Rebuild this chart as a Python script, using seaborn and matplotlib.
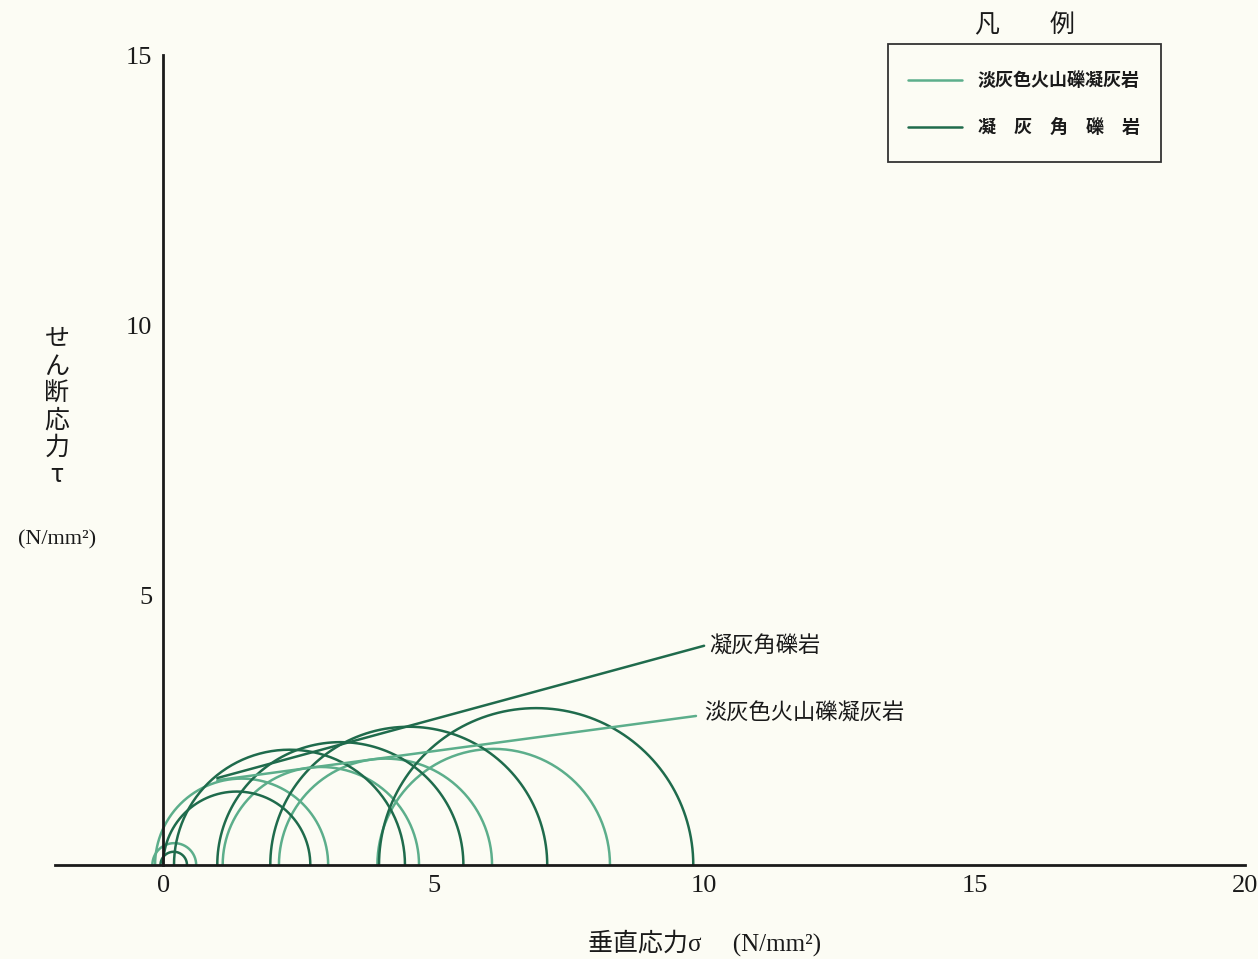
import numpy as np
import pandas as pd
import matplotlib
matplotlib.use("Agg")
import matplotlib.pyplot as plt
from matplotlib.lines import Line2D
from matplotlib.patches import Rectangle
import seaborn as sns

# Mohr circles: principal stresses (sigma3, sigma1) for each test, N/mm2
light_name = "淡灰色火山礫凝灰岩"
dark_name = "凝灰角礫岩"
light_s3 = [-0.20, -0.15, 1.10, 2.14, 3.96]
light_s1 = [0.61, 3.05, 4.73, 6.08, 8.26]
dark_s3 = [-0.05, 0.00, 0.20, 1.00, 1.98, 3.99]
dark_s1 = [0.44, 2.72, 4.47, 5.55, 7.10, 9.80]

# Failure envelopes: (sigma, tau) end points
light_env_x = [1.0, 9.85]
light_env_y = [1.57, 2.76]
dark_env_x = [1.0, 10.0]
dark_env_y = [1.61, 4.06]

x_ticks = [0, 5, 10, 15, 20]
y_ticks = [5, 10, 15]

light_col = "#5cae8b"
dark_col = "#1f6b4c"
bg = "#fcfcf4"
ink = "#1a1a1a"

sns.set_theme(style="white")
serif = ["Liberation Serif", "Noto Sans CJK JP"]
plt.rcParams["font.family"] = serif

fig = plt.figure(figsize=(12.58, 9.59), dpi=100, facecolor=bg)
ax = fig.add_axes([55 / 1258, (959 - 892) / 959, 1190 / 1258, 864 / 959])
ax.set_facecolor(bg)

# build semicircle outlines
rows = []
theta = np.linspace(0, np.pi, 181)
for name, s3s, s1s in [(light_name, light_s3, light_s1), (dark_name, dark_s3, dark_s1)]:
    for i, (s3, s1) in enumerate(zip(s3s, s1s)):
        c = (s1 + s3) / 2
        r = (s1 - s3) / 2
        for k, t in enumerate(theta):
            rows.append({"rock": name, "test": f"{name}{i}", "k": k,
                         "sigma": c + r * np.cos(t), "tau": r * np.sin(t)})
circles = pd.DataFrame(rows)

sns.lineplot(data=circles, x="sigma", y="tau", hue="rock", units="test",
             estimator=None, sort=False, palette={light_name: light_col, dark_name: dark_col},
             linewidth=1.8, legend=False, ax=ax)

env = pd.DataFrame({
    "sigma": light_env_x + dark_env_x,
    "tau": light_env_y + dark_env_y,
    "rock": [light_name] * 2 + [dark_name] * 2,
})
sns.lineplot(data=env, x="sigma", y="tau", hue="rock", estimator=None, sort=False,
             palette={light_name: light_col, dark_name: dark_col},
             linewidth=1.8, legend=False, ax=ax)

ax.text(dark_env_x[1] + 0.1, dark_env_y[1], dark_name, fontsize=16,
        ha="left", va="center", color=ink, family=["Noto Sans CJK JP"])
ax.text(light_env_x[1] + 0.15, light_env_y[1] + 0.05, light_name, fontsize=16,
        ha="left", va="center", color=ink, family=["Noto Sans CJK JP"])

ax.set_xlim(-2, 20)
ax.set_ylim(-0.5, 15.5)

for s in ["top", "right"]:
    ax.spines[s].set_visible(False)
ax.spines["left"].set_position(("data", 0))
ax.spines["bottom"].set_position(("data", 0))
ax.spines["left"].set_bounds(0, 15)
ax.spines["bottom"].set_bounds(-2, 20)
for s in ["left", "bottom"]:
    ax.spines[s].set_color(ink)
    ax.spines[s].set_linewidth(2.0)

ax.set_xticks(x_ticks)
ax.set_yticks(y_ticks)
ax.set_xticklabels([str(v) for v in x_ticks])
ax.set_yticklabels([str(v) for v in y_ticks])
ax.tick_params(axis="both", direction="in", length=9, width=1.5, colors=ink,
               labelsize=19, labelcolor=ink)
ax.tick_params(axis="x", pad=7)
ax.tick_params(axis="y", pad=8)
ax.set_xlabel("")
ax.set_ylabel("")
ax.grid(False)

# axis titles
fig.text(705 / 1258, 1 - 943 / 959, "垂直応力σ　 (N/mm²)", fontsize=18,
         ha="center", va="center", color=ink, family=serif)
fig.text(57 / 1258, 1 - 407 / 959, "\n".join("せん断応力τ"), fontsize=18,
         ha="center", va="center", color=ink, linespacing=1.05,
         family=["Noto Sans CJK JP"])
fig.text(57 / 1258, 1 - 540 / 959, "(N/mm²)", fontsize=16,
         ha="center", va="center", color=ink, family=serif)

# legend box
fig.text(1025 / 1258, 1 - 25 / 959, "凡　　例", fontsize=18, ha="center", va="center",
         color=ink, family=["Noto Sans CJK JP"])
fig.add_artist(Rectangle((888 / 1258, 1 - 162 / 959), 273 / 1258, 118 / 959,
                         transform=fig.transFigure, fill=False, edgecolor="#333333",
                         linewidth=1.3))
fig.add_artist(Line2D([908 / 1258, 962 / 1258], [1 - 80 / 959] * 2,
                      transform=fig.transFigure, color=light_col, linewidth=1.8))
fig.add_artist(Line2D([908 / 1258, 962 / 1258], [1 - 127 / 959] * 2,
                      transform=fig.transFigure, color=dark_col, linewidth=1.8))
fig.text(978 / 1258, 1 - 80 / 959, light_name, fontsize=13, ha="left", va="center",
         color=ink, fontweight="bold", family=["Noto Sans CJK JP"])
fig.text(978 / 1258, 1 - 127 / 959, "凝　灰　角　礫　岩", fontsize=13, ha="left", va="center",
         color=ink, fontweight="bold", family=["Noto Sans CJK JP"])

fig.savefig("out.png", dpi=100, facecolor=bg)
